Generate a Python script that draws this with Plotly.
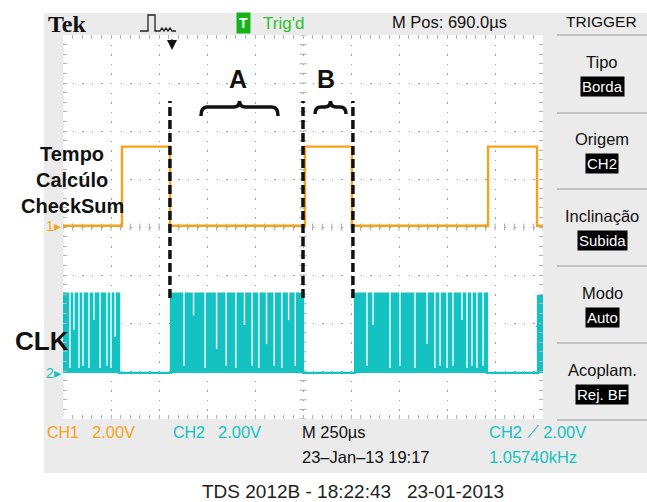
import plotly.graph_objects as go

# ---------------- data ----------------
# time axis: 10 div x 250 us ; vertical: 2 V/div
ch1_t_us = [0, 307, 307, 557, 557, 1260, 1260, 1505, 1505, 2214, 2214, 2469, 2469, 2500]
ch1_v = [0.05, 0.05, 3.35, 3.35, 0.05, 0.05, 3.35, 3.35, 0.05, 0.05, 3.35, 3.35, 0.05, 0.05]

ch2_t_us = [0, 292, 292, 562, 562, 1250, 1250, 1521, 1521, 2208, 2208, 2474, 2474, 2500]
ch2_v = [3.3, 3.3, 0.0, 0.0, 3.3, 3.3, 0.0, 0.0, 3.3, 3.3, 0.0, 0.0, 3.2, 3.2]

# white gaps visible inside the CLK bursts (time, lowest voltage reached by the gap)
clk_gap_t_us = [36, 57, 83, 104, 135, 161, 193, 229, 250, 271,
                630, 680, 740, 800, 850, 900, 945, 985, 1020, 1060, 1100, 1140, 1175, 1210,
                1583, 1615, 1703, 1755, 1833, 1896, 1937, 1964, 2000, 2031, 2078, 2104, 2130, 2156, 2188]
clk_gap_low_v = [0.2, 1.8, 0.2, 0.3, 0.2, 2.2, 0.2, 0.3, 0.2, 1.5,
                 0.3, 2.4, 0.2, 1.0, 0.3, 0.2, 2.0, 0.3, 0.2, 1.2, 0.3, 0.2, 2.2, 0.3,
                 0.3, 2.0, 0.2, 0.3, 0.2, 1.2, 0.2, 0.3, 0.2, 0.3, 2.2, 0.2, 0.3, 0.2, 0.3]

cursor_t_us = [557, 1250, 1510]

ORANGE = '#f7a21b'
CYAN = '#15c2c2'
SANS = 'Liberation Sans, Arial, sans-serif'
NARROW = SANS
SERIF = 'Liberation Serif, DejaVu Serif, serif'

W, H = 647, 502
L, R, T, B = 63, 543, 35, 419


def px(x):
    return (x - L) / (R - L)


def py(y):
    return (B - y) / (B - T)


fig = go.Figure()

fig.add_trace(go.Scatter(x=ch1_t_us, y=ch1_v, mode='lines', line=dict(color=ORANGE, width=2.4),
                         hoverinfo='skip', showlegend=False))
fig.add_trace(go.Scatter(x=ch2_t_us, y=ch2_v, mode='lines', yaxis='y2', fill='tozeroy',
                         fillcolor=CYAN, line=dict(color=CYAN, width=2.2),
                         hoverinfo='skip', showlegend=False))
gx, gy = [], []
for t, lo in zip(clk_gap_t_us, clk_gap_low_v):
    gx += [t, t, None]
    gy += [3.45, lo, None]
fig.add_trace(go.Scatter(x=gx, y=gy, mode='lines', yaxis='y2', line=dict(color='white', width=1.4),
                         hoverinfo='skip', showlegend=False))

# ---------------- shapes ----------------
shapes = []
# grey instrument frame
shapes.append(dict(type='rect', xref='paper', yref='paper', x0=px(44), x1=px(647), y0=py(473), y1=py(13),
                   fillcolor='#ebebeb', line=dict(width=0), layer='below'))
shapes.append(dict(type='rect', xref='paper', yref='paper', x0=0, x1=1, y0=0, y1=1,
                   fillcolor='white', line=dict(width=0), layer='below'))
# right menu separators
for yy in [35, 113, 189, 266, 343, 420]:
    shapes.append(dict(type='line', xref='paper', yref='paper', x0=px(557), x1=px(647), y0=py(yy), y1=py(yy),
                       line=dict(color='#9a9a9a', width=1.2), layer='below'))
# centre cross-hair ticks
for k in range(0, 51):
    t = k * 50
    shapes.append(dict(type='line', xref='x', yref='paper', x0=t, x1=t, y0=0.5 - 3.5 / 384, y1=0.5 + 3.5 / 384,
                       line=dict(color='#a8a8a8', width=1), layer='below'))
for k in range(0, 41):
    v = -8 + k * 0.4
    shapes.append(dict(type='line', xref='paper', yref='y', x0=0.5 - 3.5 / 480, x1=0.5 + 3.5 / 480, y0=v, y1=v,
                       line=dict(color='#a8a8a8', width=1), layer='below'))
# dashed cursor lines
for t in cursor_t_us:
    shapes.append(dict(type='line', xref='x', yref='paper', x0=t, x1=t, y0=py(298), y1=py(101),
                       line=dict(color='#111111', width=3.5, dash='9px,4px'), layer='above'))


# braces
def brace(x0, x1, ytop, ybot):
    xm = (x0 + x1) / 2
    r = 6
    p = (f"M{px(x0)},{py(ybot)} Q{px(x0)},{py(ytop + 6)} {px(x0 + r)},{py(ytop + 6)} "
         f"L{px(xm - r)},{py(ytop + 6)} Q{px(xm)},{py(ytop + 6)} {px(xm)},{py(ytop)} "
         f"Q{px(xm)},{py(ytop + 6)} {px(xm + r)},{py(ytop + 6)} "
         f"L{px(x1 - r)},{py(ytop + 6)} Q{px(x1)},{py(ytop + 6)} {px(x1)},{py(ybot)}")
    return dict(type='path', xref='paper', yref='paper', path=p, line=dict(color='#111', width=3.5), layer='above')


shapes.append(brace(201, 278, 101, 116))
shapes.append(brace(315, 346, 101, 114))

# trigger icon
icon = [(140, 31), (148, 31), (148, 15), (155, 15), (155, 31), (160, 31), (162, 28), (164, 31), (166, 28),
        (168, 31), (170, 28), (172, 31), (176, 31)]
path = 'M' + ' L'.join(f"{px(a)},{py(b)}" for a, b in icon)
shapes.append(dict(type='path', xref='paper', yref='paper', path=path, line=dict(color='#222', width=1.3)))

# ---------------- annotations ----------------
ann = []


def txt(x, y, s, size, color='#111', family=NARROW, xanchor='left', bg=None, pad=1):
    d = dict(x=px(x), y=py(y), xref='paper', yref='paper', text=s, showarrow=False, xanchor=xanchor,
             yanchor='middle', font=dict(size=size, color=color, family=family), borderpad=pad)
    if bg:
        d['bgcolor'] = bg
    ann.append(d)


txt(46, 24, '<b>Tek</b>', 24, '#111', SERIF)
txt(243, 23, '<b>T</b>', 14, 'white', SANS, 'center', bg='#16b316', pad=2)
txt(261, 23, "Trig'd", 17, '#2ec22e')
txt(390, 22, 'M Pos: 690.0µs', 16.5, '#111')
txt(601, 22, 'TRIGGER', 15.5, '#111', xanchor='center')

menu = [('Tipo', 'Borda'), ('Origem', 'CH2'), ('Inclinação', 'Subida'), ('Modo', 'Auto'), ('Acoplam.', 'Rej. BF')]
for i, (lab, val) in enumerate(menu):
    txt(602, 62 + 77 * i, lab, 16.5, '#111', xanchor='center')
    txt(602, 86 + 77 * i, val, 15, 'white', xanchor='center', bg='#000000')

# ground / trigger markers
txt(63, 226, '1▸', 14, ORANGE, xanchor='right')
txt(63, 373, '2▸', 14, CYAN, xanchor='right')
txt(544, 325, '◂', 14, CYAN, SANS, xanchor='right')
ann.append(dict(x=px(172), y=py(50), ax=0, ay=-12, xref='paper', yref='paper', text='', showarrow=True,
                arrowhead=2, arrowsize=1, arrowwidth=2, arrowcolor='#111'))

# labels on the screen
txt(238, 79, '<b>A</b>', 25, '#111', SANS, 'center')
txt(326, 79, '<b>B</b>', 25, '#111', SANS, 'center')
txt(72, 154, '<b>Tempo</b>', 20, '#111', SANS, 'center')
txt(72, 180, '<b>Calcúlo</b>', 20, '#111', SANS, 'center')
txt(72, 206, '<b>CheckSum</b>', 20, '#111', SANS, 'center')
txt(13, 341, '<b>CLK</b>', 26, '#111', SANS)

# bottom readouts
txt(45, 432, 'CH1', 16, ORANGE)
txt(90, 432, '2.00V', 16.5, ORANGE)
txt(171, 432, 'CH2', 16, CYAN)
txt(216, 432, '2.00V', 16.5, CYAN)
txt(300, 432, 'M 250µs', 16.5, '#111')
txt(300, 457, '23–Jan–13 19:17', 16.5, '#111')
txt(487, 432, 'CH2 ⟋ 2.00V', 16.5, CYAN)
txt(487, 457, '1.05740kHz', 16.5, CYAN)
txt(353, 491, 'TDS 2012B - 18:22:43\u00a0\u00a0\u00a023-01-2013', 19, '#222', SANS, 'center')

axis_common = dict(showgrid=True, gridcolor='#a0a0a0', gridwidth=1.3, zeroline=False,
                   showticklabels=False, ticks='inside', ticklen=4, tickcolor='#b4b4b4', tickwidth=1,
                   mirror='ticks', showline=False, fixedrange=True)

fig.update_layout(
    width=W, height=H,
    margin=dict(l=L, r=W - R, t=T, b=H - B, pad=0),
    paper_bgcolor='white', plot_bgcolor='rgba(0,0,0,0)',
    xaxis=dict(range=[0, 2500], dtick=250, tick0=0, griddash='1.3px,8.3px',
               minor=dict(dtick=50, tick0=0, ticks='inside', ticklen=4, tickcolor='#b4b4b4', showgrid=False),
               **axis_common),
    yaxis=dict(range=[-8, 8], dtick=2, tick0=0, griddash='1.3px,8.3px',
               minor=dict(dtick=0.4, tick0=0, ticks='inside', ticklen=4, tickcolor='#b4b4b4', showgrid=False),
               **axis_common),
    yaxis2=dict(range=[-1.92, 14.08], overlaying='y', visible=False, fixedrange=True),
    shapes=shapes, annotations=ann,
    showlegend=False,
)

fig.write_html('out.html', config={'displayModeBar': False},
               post_script="document.body.style.margin='0px';document.body.style.padding='0px';")
